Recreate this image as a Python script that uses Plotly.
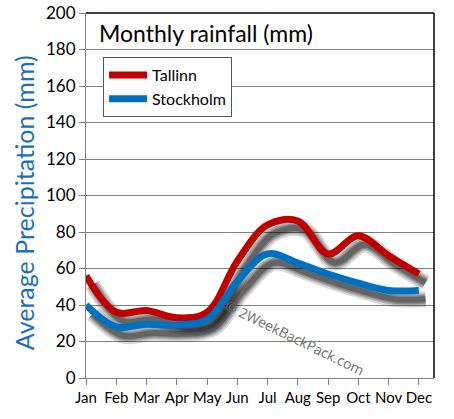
import plotly.graph_objects as go

months = ["Jan", "Feb", "Mar", "Apr", "May", "Jun", "Jul", "Aug", "Sep", "Oct", "Nov", "Dec"]
tallinn = [56, 36, 37, 33, 36, 64, 84, 86, 68, 78, 67, 57]
stockholm = [40, 28, 29.5, 29, 32, 53, 68, 63, 57, 52, 48, 48]
y_ticks = [0, 20, 40, 60, 80, 100, 120, 140, 160, 180, 200]

x = list(range(len(months)))
SMOOTH = 1.0

fig = go.Figure()

# blurred drop shadows (offset right/down)
dx, dy = 0.22, -4.8
for series in (tallinn, stockholm):
    for w, a in ((16, 0.15), (12, 0.18), (9, 0.22), (6, 0.28)):
        fig.add_trace(go.Scatter(
            x=[v + dx for v in x], y=[v + dy for v in series], mode="lines",
            line=dict(color=f"rgba(0,0,0,{a})", width=w, shape="spline", smoothing=SMOOTH),
            showlegend=False, hoverinfo="skip"))

fig.add_trace(go.Scatter(x=x, y=tallinn, name="Tallinn", mode="lines", legendgroup="a",
                         line=dict(color="#c00000", width=7, shape="spline", smoothing=SMOOTH)))
fig.add_trace(go.Scatter(x=x, y=stockholm, name="Stockholm", mode="lines", legendgroup="b",
                         line=dict(color="#0070c0", width=7, shape="spline", smoothing=SMOOTH)))

font_main = "Lato, Open Sans, sans-serif"

fig.update_layout(
    width=454, height=419,
    margin=dict(l=86, r=20, t=13, b=41),
    paper_bgcolor="white", plot_bgcolor="white",
    font=dict(family=font_main, color="#000000", size=16),
    legend=dict(x=0.049, y=0.879, xanchor="left", yanchor="top",
                bgcolor="white", bordercolor="#555555", borderwidth=1,
                font=dict(size=16, color="#000000"), tracegroupgap=0,
                entrywidth=126, itemwidth=38),
    xaxis=dict(range=[0, 11.5], tickvals=x, ticktext=months, showgrid=False,
               showline=True, linecolor="#808080", linewidth=1, automargin=False,
               ticks="outside", ticklen=6, tickcolor="#808080", zeroline=False,
               tickangle=0, tickfont=dict(size=15)),
    yaxis=dict(range=[0, 200], tickvals=y_ticks, showgrid=True, gridcolor="#808080",
               gridwidth=1, showline=True, linecolor="#808080", linewidth=1, automargin=False,
               ticks="outside", ticklen=6, tickcolor="#808080", zeroline=False,
               tickfont=dict(size=17)),
    shapes=[
        dict(type="line", xref="paper", yref="paper", x0=0, x1=1, y0=1, y1=1,
             line=dict(color="black", width=1.5)),
        dict(type="line", xref="paper", yref="paper", x0=1, x1=1, y0=0, y1=1,
             line=dict(color="black", width=1.5)),
    ],
    annotations=[
        dict(text="Monthly rainfall (mm)", xref="paper", yref="paper", x=0.0316, y=0.945,
             xanchor="left", yanchor="middle", showarrow=False,
             font=dict(size=23, color="#000000", family=font_main)),
        dict(text="Average Precipitation (mm)", xref="paper", yref="paper", x=-0.178, y=0.479,
             xanchor="center", yanchor="middle", textangle=-90, showarrow=False,
             font=dict(size=25, color="#1a6fb8", family=font_main)),
        dict(text="© 2WeekBackPack.com", xref="paper", yref="paper", x=0.60, y=0.112,
             xanchor="center", yanchor="middle", textangle=26, showarrow=False,
             font=dict(size=14, color="#707070", family="Open Sans, sans-serif")),
    ],
)

fig.write_html("out.html", config={"displayModeBar": False},
               post_script="document.body.style.margin='0';")
